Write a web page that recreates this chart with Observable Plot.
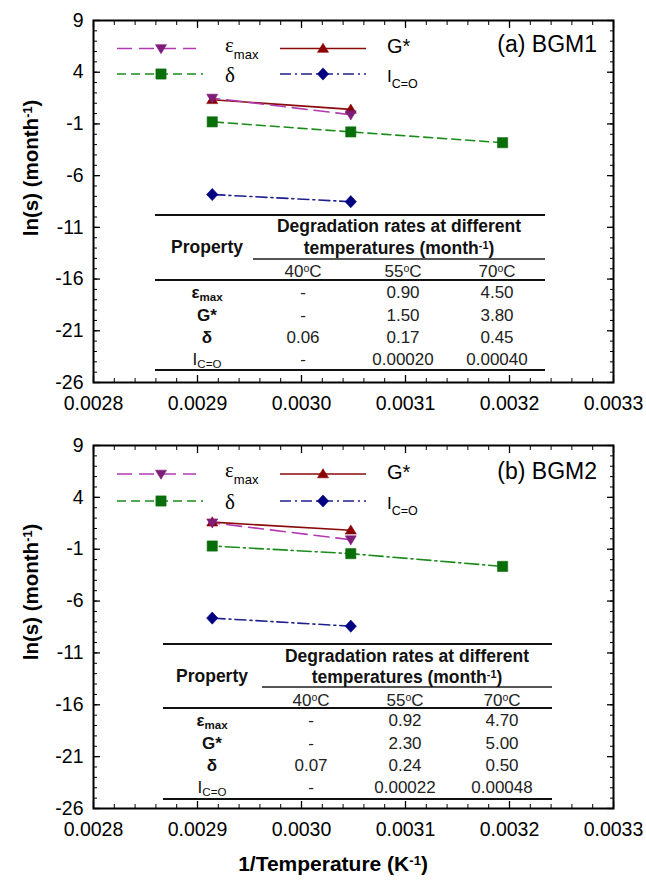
<!DOCTYPE html>
<html><head><meta charset="utf-8">
<script src="https://cdn.jsdelivr.net/npm/d3@7"></script>
<script src="https://cdn.jsdelivr.net/npm/@observablehq/plot@0.6"></script>
<style>
body{margin:0;background:#fff;font-family:Arial,"Liberation Sans",sans-serif;color:#000;}
#root{position:relative;width:646px;height:885px;overflow:hidden;background:#fff;}
.abs{position:absolute;white-space:nowrap;line-height:1;transform:translate(-50%,-50%);}
.sub{position:relative;top:0.25em;font-size:0.68em;}
.sup{position:relative;top:-0.45em;font-size:0.62em;}
</style></head><body><div id="root"></div>
<script>
// ---------- data ----------
const temperaturesC = [40, 55, 70];
const tempLabels = ["40", "55", "70"];
const panelTitles = ["(a) BGM1", "(b) BGM2"];
const bgm1EpsMax = [null, 0.90, 4.50];
const bgm1Gstar  = [null, 1.50, 3.80];
const bgm1Delta  = [0.06, 0.17, 0.45];
const bgm1Ico    = [null, 0.00020, 0.00040];
const bgm2EpsMax = [null, 0.92, 4.70];
const bgm2Gstar  = [null, 2.30, 5.00];
const bgm2Delta  = [0.07, 0.24, 0.50];
const bgm2Ico    = [null, 0.00022, 0.00048];
const decimals   = {eps: 2, g: 2, delta: 2, ico: 5};
const xTicks = [0.0028, 0.0029, 0.0030, 0.0031, 0.0032, 0.0033];
const yTicks = [9, 4, -1, -6, -11, -16, -21, -26];
const xMinor = d3.range(0, 26).map(i => 0.0028 + i * 0.00002);
const yMinor = d3.range(-26, 10);

// ---------- styles ----------
function tri(dir){return {draw(c,size){const r=Math.sqrt(size/Math.PI);const w=r*1.15,h=r*1.0;
  c.moveTo(0,-dir*h*1.1);c.lineTo(w,dir*h*0.8);c.lineTo(-w,dir*h*0.8);c.closePath();}};}
const sqr={draw(c,size){const r=Math.sqrt(size/Math.PI);c.moveTo(-r,-r);c.lineTo(r,-r);c.lineTo(r,r);c.lineTo(-r,r);c.closePath();}};
const dia={draw(c,size){const r=Math.sqrt(size/Math.PI);c.moveTo(0,-r*1.3);c.lineTo(r*1.2,0);c.lineTo(0,r*1.3);c.lineTo(-r*1.2,0);c.closePath();}};
const styles = {
  eps:   {line:"#b23ab0", fill:"#7d1d78", dash:"15,7", symbol:tri(-1), r:4.8},
  g:     {line:"#8b0a0a", fill:"#8b0000", dash:null, symbol:tri(1), r:4.8},
  delta: {line:"#1b8c1b", fill:"#0a6e0a", dash:"9,5", symbol:sqr, r:5.1},
  ico:   {line:"#1f1f8f", fill:"#000080", dash:"11,4,2,4", symbol:dia, r:4.7}
};
const FONT = "Arial, 'Liberation Sans', sans-serif";

const panels = [
  {title:panelTitles[0], top:0, height:420, mt:20, mb:38,
   vals:{eps:bgm1EpsMax, g:bgm1Gstar, delta:bgm1Delta, ico:bgm1Ico}, deltaDash:"9,5",
   legRows:[48.5, 74], titleY:44, ylabY:168,
   tab:{top:215, left:155, right:545, thinY:259, thinL:253, midY:280, bot:370,
        h1:227, h2:249, sub:271, rows:[292,315,337,359], cx:[207,303,403,497], hx:399}},
  {title:panelTitles[1], top:420, height:420, mt:25, mb:32,
   vals:{eps:bgm2EpsMax, g:bgm2Gstar, delta:bgm2Delta, ico:bgm2Ico}, deltaDash:"14,4,2,4",
   legRows:[474, 501], titleY:471, ylabY:592,
   tab:{top:644, left:163, right:552, thinY:687, thinL:262, midY:708, bot:799,
        h1:657, h2:678, sub:700, rows:[720,743,765,787], cx:[212,311,405,502], hx:407}}
];

const root = document.getElementById("root");
const order = ["delta","ico","g","eps"];

function pts(vals){return temperaturesC.map((t,j)=>({x:1/(t+273.15), v:vals[j]}))
  .filter(d=>d.v!=null).map(d=>({x:d.x, y:Math.log(d.v)}));}

function makePlot(p){
  const lines = order.map(k=>{const st=styles[k];const dash=k==="delta"?p.deltaDash:st.dash;
    return Plot.line(pts(p.vals[k]), {x:"x", y:"y", stroke:st.line, strokeWidth:1.6, ...(dash?{strokeDasharray:dash}:{})});});
  const dots = order.map(k=>{const st=styles[k];
    return Plot.dot(pts(p.vals[k]), {x:"x", y:"y", symbol:st.symbol, r:st.r, fill:st.fill, stroke:st.fill, strokeWidth:0.6});});
  return Plot.plot({
    width:646, height:p.height, marginTop:p.mt, marginBottom:p.mb, marginLeft:93, marginRight:33,
    style:{fontFamily:FONT, fontSize:"19.5px", background:"transparent", color:"#000", overflow:"visible"},
    x:{domain:[0.0028,0.0033]}, y:{domain:[-26,9]},
    marks:[
      Plot.axisX({ticks:xTicks, tickSize:0, tickPadding:14, stroke:"none", tickFormat:d3.format(".4f"), label:null}),
      Plot.axisY({ticks:yTicks, tickSize:0, tickPadding:10, stroke:"none", tickFormat:d=>String(d), label:null}),
      Plot.axisX({ticks:xTicks, tickSize:-7, fill:"none", label:null, strokeWidth:1.3}),
      Plot.axisX({ticks:xMinor, tickSize:-4, fill:"none", label:null}),
      Plot.axisX({anchor:"top", ticks:xTicks, tickSize:-7, fill:"none", label:null, strokeWidth:1.3}),
      Plot.axisX({anchor:"top", ticks:xMinor, tickSize:-4, fill:"none", label:null}),
      Plot.axisY({ticks:yTicks, tickSize:-7, fill:"none", label:null, strokeWidth:1.3}),
      Plot.axisY({ticks:yMinor, tickSize:-4, fill:"none", label:null}),
      Plot.axisY({anchor:"right", ticks:yTicks, tickSize:-7, fill:"none", label:null, strokeWidth:1.3}),
      Plot.axisY({anchor:"right", ticks:yMinor, tickSize:-4, fill:"none", label:null}),
      Plot.frame({stroke:"#000", strokeWidth:2}),
      ...lines, ...dots
    ]
  });
}

function txt(html, x, y, style){const d=document.createElement("div");d.className="abs";d.innerHTML=html;
  d.style.left=x+"px";d.style.top=y+"px";Object.assign(d.style, style||{});root.appendChild(d);return d;}
function hline(x1,x2,y,w,color){const d=document.createElement("div");d.style.position="absolute";
  d.style.left=x1+"px";d.style.width=(x2-x1)+"px";d.style.top=(y-w/2)+"px";d.style.height=w+"px";d.style.background=color;root.appendChild(d);}

function legend(p){
  const svg = d3.select(root).append("svg").attr("width",646).attr("height",885)
    .style("position","absolute").style("left","0").style("top","0").style("pointer-events","none")
    .style("font-family",FONT);
  const items=[{k:"eps",x1:117,x2:196,mx:161,row:0},{k:"g",x1:280,x2:366,mx:323,row:0},
               {k:"delta",x1:117,x2:203,mx:161,row:1},{k:"ico",x1:280,x2:366,mx:323,row:1}];
  for(const it of items){const st=styles[it.k];const y=p.legRows[it.row];
    svg.append("line").attr("x1",it.x1).attr("x2",it.x2).attr("y1",y).attr("y2",y)
      .attr("stroke",st.line).attr("stroke-width",1.6).attr("stroke-dasharray",st.dash);
    const path=d3.path(); st.symbol.draw(path, st.r*st.r*Math.PI);
    svg.append("path").attr("d",path.toString()).attr("transform",`translate(${it.mx},${y})`)
      .attr("fill",st.fill).attr("stroke",st.fill).attr("stroke-width",0.6);
  }
  const r0=p.legRows[0], r1=p.legRows[1];
  let t=svg.append("text").attr("x",225).attr("y",r0+3).attr("font-size",21);
  t.append("tspan").attr("font-family","'Liberation Serif', serif").text("ε");
  t.append("tspan").attr("font-size",13).attr("dy",7).text("max");
  svg.append("text").attr("x",387).attr("y",r0+4.5).attr("font-size",20).text("G*");
  svg.append("text").attr("x",225).attr("y",r1+8).attr("font-size",21).attr("font-family","'Liberation Serif', serif").text("δ");
  t=svg.append("text").attr("x",387).attr("y",r1+8).attr("font-size",17);
  t.append("tspan").text("I");
  t.append("tspan").attr("font-size",12.5).attr("dy",6).text("C=O");
  svg.append("text").attr("x",597).attr("y",p.titleY+8.2).attr("font-size",23).attr("text-anchor","end").text(p.title);
}

function table(p){
  const T=p.tab, ink="#111";
  hline(T.left,T.right,T.top,2.6,ink);
  hline(T.thinL,T.right,T.thinY,1.3,"#555");
  hline(T.left,T.right,T.midY,2.6,ink);
  hline(T.left,T.right,T.bot,2.6,ink);
  const hb={fontWeight:"bold",fontSize:"17.5px",color:ink};
  const pb={fontWeight:"bold",fontSize:"17px",color:ink};
  const rg={fontSize:"17px",color:"#222"};
  txt("Degradation rates at different",T.hx,T.h1,hb);
  txt("temperatures (month<span class='sup'>-1</span>)",T.hx,T.h2,hb);
  txt("Property",T.cx[0],T.h2-1,hb);
  temperaturesC.forEach((t,j)=>txt(tempLabels[j]+"<span class='sup'>o</span>C",T.cx[j+1],T.sub,rg));
  const names={eps:"ε<span class='sub'>max</span>", g:"G*", delta:"δ", ico:"<span style='font-weight:normal'>I<span class='sub'>C=O</span></span>"};
  ["eps","g","delta","ico"].forEach((k,i)=>{
    txt(names[k],T.cx[0],T.rows[i],pb);
    p.vals[k].forEach((v,j)=>txt(v==null?"-":v.toFixed(decimals[k]),T.cx[j+1],T.rows[i],rg));
  });
}

panels.forEach(p=>{
  const el=makePlot(p);
  const wrap=document.createElement("div");wrap.style.position="absolute";wrap.style.left="0";wrap.style.top=p.top+"px";
  wrap.appendChild(el);root.appendChild(wrap);
  table(p);
  legend(p);
  const yl=txt("ln(s) (month<span class='sup'>-1</span>)",31,p.ylabY,{fontWeight:"bold",fontSize:"20.5px"});
  yl.style.transform="translate(-50%,-50%) rotate(-90deg)";
});
txt("1/Temperature (K<span class='sup'>-1</span>)",333,863,{fontWeight:"bold",fontSize:"21px"});
</script></body></html>
